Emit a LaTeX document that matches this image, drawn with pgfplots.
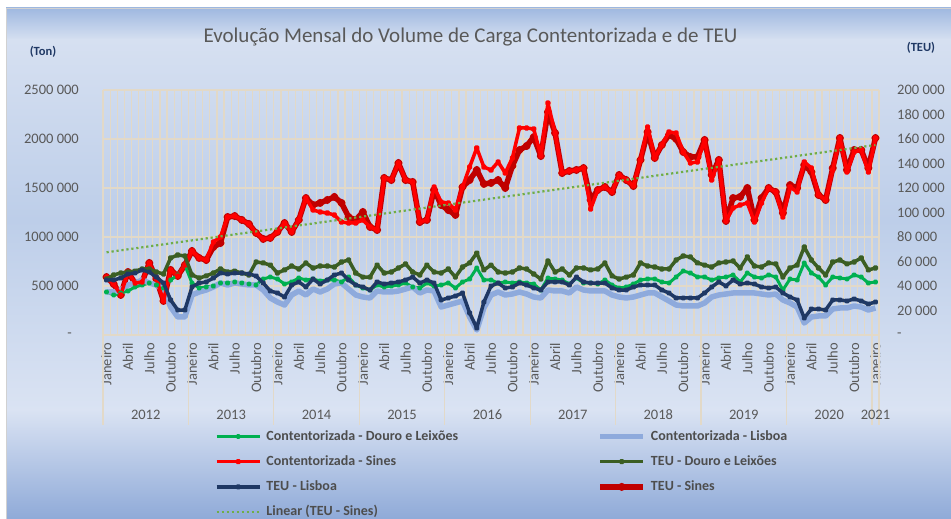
\documentclass[border=0pt]{standalone}
\usepackage{pgfplots}
\pgfplotsset{compat=1.18}
\usepackage{pgfplotstable}
\usepackage{fontspec}
\setmainfont{Carlito}

\definecolor{cA}{HTML}{00B050}
\definecolor{cAm}{HTML}{D2C6A8}
\definecolor{cB}{HTML}{8EAADC}
\definecolor{cC}{HTML}{FF0000}
\definecolor{cCm}{HTML}{F2D39A}
\definecolor{cD}{HTML}{3B5E23}
\definecolor{cDm}{HTML}{FFC000}
\definecolor{cE}{HTML}{1F3864}
\definecolor{cEm}{HTML}{8DB4E2}
\definecolor{cF}{HTML}{C00000}
\definecolor{cFm}{HTML}{70AD47}
\definecolor{cG}{HTML}{70AD47}
\definecolor{gridcol}{HTML}{E2D9C8}
\definecolor{lbl}{HTML}{595959}
\definecolor{legtext}{HTML}{4D4D4D}
\definecolor{unitcol}{HTML}{1F3864}
\definecolor{bgA}{HTML}{9FB8E0}
\definecolor{bgB}{HTML}{D6E0F1}
\definecolor{bgC}{HTML}{BDCEE9}
\definecolor{bgD}{HTML}{DAE3F3}
\definecolor{bgE}{HTML}{8FAAD8}

\newcommand\tickfont{\fontsize{14.5bp}{17bp}\selectfont}
\newcommand\legfont{\fontsize{14bp}{16bp}\selectfont\bfseries}

% i = month index (0 = Janeiro 2012, 108 = Janeiro 2021)
% A = Contentorizada Douro e Leixoes (ton), B = Contentorizada Lisboa (ton), C = Contentorizada Sines (ton)
% D = TEU Douro e Leixoes, E = TEU Lisboa, F = TEU Sines
\pgfplotstableread{
i A B C D E F
0 438800 438800 591800 45700 44900 47300
1 408200 438800 520400 49000 44900 41600
2 428600 459200 408200 50600 46500 32700
3 449000 510200 642900 51400 49800 51400
4 489800 530600 530600 52200 50600 42400
5 510200 561200 540800 53900 53100 43300
6 530600 530600 734700 53900 51400 58800
7 510200 510200 571400 51400 47300 45700
8 479600 459200 346900 49800 42400 27800
9 561200 285700 663300 62900 28600 53100
10 612200 183700 602000 65300 20400 48200
11 714300 183700 714300 64500 20400 57100
12 530600 408200 857100 49000 39200 68600
13 479600 438800 785700 46500 42400 62900
14 489800 459200 765300 48200 43300 61200
15 500000 489800 949000 50600 46500 71800
16 530600 530600 1000000 53900 50600 75100
17 530600 510200 1204100 51400 49800 96300
18 540800 530600 1214300 52200 50600 97100
19 530600 520400 1173500 50600 50600 93900
20 520400 510200 1132700 49000 49800 90600
21 510200 510200 1040800 59600 48200 83300
22 571400 459200 979600 58800 42400 78400
23 591800 377600 989800 57100 35900 79200
24 571400 336700 1051000 50600 34300 84100
25 520400 306100 1142900 53100 31000 91400
26 540800 408200 1051000 56300 40800 84100
27 581600 449000 1173500 53900 43300 93900
28 561200 408200 1398000 58800 39200 111800
29 571400 469400 1275500 54700 45700 106100
30 551000 438800 1255100 56300 41600 107800
31 561200 469400 1244900 56300 44900 110200
32 561200 520400 1224500 55500 49000 112700
33 540800 530600 1153100 59600 50600 107800
34 591800 469400 1142900 61200 44900 96300
35 510200 408200 1142900 50600 40800 93900
36 479600 387800 1173500 47300 39200 100400
37 459200 377600 1102000 47300 36700 88200
38 510200 449000 1071400 57100 43300 85700
39 489800 438800 1602000 50600 41600 128200
40 500000 438800 1581600 51400 42400 126500
41 510200 449000 1755100 54700 43300 140400
42 530600 469400 1581600 58000 44900 126500
43 489800 489800 1561200 51400 47300 124900
44 479600 428600 1153100 49000 42400 92200
45 530600 459200 1173500 57100 44900 93900
46 500000 449000 1510200 51400 42400 118400
47 510200 285700 1357100 50600 28600 106100
48 530600 306100 1346900 53900 30200 102000
49 479600 326500 1275500 47300 31800 98000
50 540800 346900 1510200 55500 34300 120800
51 571400 183700 1714300 58800 18000 126500
52 683700 51000 1908200 66900 5700 134700
53 561200 275500 1714300 53100 26900 123300
54 561200 408200 1683700 57100 40000 124100
55 530600 438800 1765300 51400 42400 126500
56 540800 408200 1653100 50600 38400 120000
57 530600 418400 1806100 51400 39200 138000
58 540800 438800 2112200 54700 42400 151000
59 530600 418400 2112200 53900 40800 154300
60 520400 387800 2102000 49800 38400 161600
61 459200 377600 1826500 45700 36700 146100
62 581600 459200 2367300 60400 43300 182000
63 571400 449000 2061200 51400 43300 164900
64 561200 449000 1653100 53900 43300 132200
65 520400 428600 1673500 49000 40800 133900
66 581600 489800 1683700 54700 47300 134700
67 530600 459200 1704100 54700 43300 136300
68 530600 449000 1285700 53100 42400 110200
69 520400 449000 1479600 53900 42400 118400
70 561200 449000 1510200 58800 42400 120800
71 510200 408200 1459200 48200 38400 116700
72 479600 387800 1632700 45700 36700 130600
73 489800 377600 1581600 47300 36700 126500
74 520400 387800 1520400 49000 39200 121600
75 561200 408200 1785700 58800 40800 142900
76 571400 428600 2122400 56300 40800 165700
77 571400 428600 1806100 55500 40800 144500
78 540800 387800 1938800 53900 36700 155100
79 530600 346900 2071400 53900 34300 163300
80 591800 306100 2061200 61200 30200 160000
81 653100 295900 1867300 64500 30200 149400
82 632700 295900 1755100 63700 30200 145300
83 591800 295900 1765300 58800 30200 145300
84 591800 326500 1989800 57100 34300 159200
85 561200 387800 1581600 55500 39200 130600
86 581600 408200 1785700 58800 43300 142900
87 591800 418400 1163300 59600 40000 93100
88 612200 428600 1295900 60400 44900 111800
89 540800 428600 1326500 54700 41600 112700
90 632700 428600 1346900 63700 42400 120000
91 591800 428600 1153100 56300 41600 93900
92 581600 418400 1346900 55500 39200 111800
93 612200 408200 1500000 58800 38400 120000
94 591800 418400 1459200 58000 39200 116700
95 459200 357100 1204100 47300 34300 99600
96 571400 326500 1510200 54700 31000 122400
97 561200 285700 1459200 57100 28600 120000
98 734700 122400 1765300 71800 13900 138800
99 632700 183700 1704100 61200 21200 133100
100 591800 193900 1428600 54700 21200 114300
101 510200 193900 1377600 49000 20400 110200
102 591800 265300 1683700 59600 28600 136300
103 581600 275500 2010200 61200 28600 160800
104 571400 275500 1663300 58000 27800 134700
105 612200 295900 1867300 59600 29400 151000
106 591800 285700 1887800 62900 27800 151000
107 530600 255100 1663300 53100 25300 136300
108 540800 275500 2010200 54700 26900 160800
}\data

\pgfplotsset{
  base/.style={scale only axis, width=776bp, height=245bp,
    at={(103bp,184bp)}, anchor=south west,
    xmin=-0.5, xmax=108.5,
    axis line style={draw=none},
    major tick length=0pt, minor tick length=0pt,
    scaled ticks=false,
    tick label style={font=\tickfont, text=lbl}},
  sA/.style={color=cA, line width=3bp, line join=round, mark=*, mark size=1.3bp, mark options={draw=none, fill=cAm}},
  sB/.style={color=cB, line width=5.5bp, line join=round, no markers},
  sC/.style={color=cC, line width=3.5bp, line join=round, mark=*, mark size=1.3bp, mark options={draw=none, fill=cCm}},
  sD/.style={color=cD, line width=3.5bp, line join=round, mark=*, mark size=1.3bp, mark options={draw=none, fill=cDm}},
  sE/.style={color=cE, line width=3.5bp, line join=round, mark=*, mark size=1.2bp, mark options={draw=none, fill=cEm}},
  sF/.style={color=cF, line width=5.5bp, line join=round, mark=*, mark size=1.3bp, mark options={draw=none, fill=cFm}},
  sG/.style={color=cG, line width=2.2bp, dash pattern=on 2.2bp off 2.8bp, no markers},
}

\begin{document}
\begin{tikzpicture}[x=1bp,y=1bp]
\fill[white] (0,0) rectangle (951,519);
\shade[top color=bgA, bottom color=bgB] (6,479) rectangle (951,511);
\shade[top color=bgB, bottom color=bgC] (6,299) rectangle (951,479.2);
\shade[top color=bgC, bottom color=bgD] (6,109) rectangle (951,299.2);
\shade[top color=bgD, bottom color=bgE] (6,0) rectangle (951,109.2);
\draw[black!18, line width=0.8bp] (6,0) -- (6,511) -- (951,511);

% grid (labels suppressed) + TEU Sines (right scale)
\begin{axis}[base, ymin=0, ymax=200000,
  ytick={0,40000,80000,120000,160000,200000},
  xtick={-0.5,0.5,...,108.5},
  xticklabel={\relax}, yticklabel={\relax},
  xmajorgrids, ymajorgrids,
  major grid style={gridcol, line width=1.2bp}]
\addplot[sF] table[x=i,y=F]{\data};
\end{axis}

% left axis (ton)
\begin{axis}[base, clip=false, ymin=0, ymax=2500000,
  ytick={0,500000,1000000,1500000,2000000,2500000},
  yticklabels={-\hspace*{7bp},500 000,1000 000,1500 000,2000 000,2500 000},
  yticklabel style={anchor=east, inner sep=0pt, xshift=-24bp},
  xtick={0,3,...,108},
  xticklabels={Janeiro,Abril,Julho,Outubro,Janeiro,Abril,Julho,Outubro,Janeiro,Abril,Julho,Outubro,Janeiro,Abril,Julho,Outubro,Janeiro,Abril,Julho,Outubro,Janeiro,Abril,Julho,Outubro,Janeiro,Abril,Julho,Outubro,Janeiro,Abril,Julho,Outubro,Janeiro,Abril,Julho,Outubro,Janeiro},
  xticklabel style={rotate=90, anchor=east, inner sep=0pt},
  xticklabel shift=8bp]
\addplot[sA] table[x=i,y=A]{\data};
\addplot[sB] table[x=i,y=B]{\data};
\addplot[sC] table[x=i,y=C]{\data};
\draw[gridcol, line width=1.2bp] (axis cs:-0.5,0) -- ++(0pt,-90bp);
\draw[gridcol, line width=1.2bp] (axis cs:11.5,0) -- ++(0pt,-90bp);
\draw[gridcol, line width=1.2bp] (axis cs:23.5,0) -- ++(0pt,-90bp);
\draw[gridcol, line width=1.2bp] (axis cs:35.5,0) -- ++(0pt,-90bp);
\draw[gridcol, line width=1.2bp] (axis cs:47.5,0) -- ++(0pt,-90bp);
\draw[gridcol, line width=1.2bp] (axis cs:59.5,0) -- ++(0pt,-90bp);
\draw[gridcol, line width=1.2bp] (axis cs:71.5,0) -- ++(0pt,-90bp);
\draw[gridcol, line width=1.2bp] (axis cs:83.5,0) -- ++(0pt,-90bp);
\draw[gridcol, line width=1.2bp] (axis cs:95.5,0) -- ++(0pt,-90bp);
\draw[gridcol, line width=1.2bp] (axis cs:107.5,0) -- ++(0pt,-90bp);
\draw[gridcol, line width=1.2bp] (axis cs:108.5,0) -- ++(0pt,-90bp);
\node[font=\tickfont, text=lbl] at (axis cs:5.5,0) [yshift=-80bp] {2012};
\node[font=\tickfont, text=lbl] at (axis cs:17.5,0) [yshift=-80bp] {2013};
\node[font=\tickfont, text=lbl] at (axis cs:29.5,0) [yshift=-80bp] {2014};
\node[font=\tickfont, text=lbl] at (axis cs:41.5,0) [yshift=-80bp] {2015};
\node[font=\tickfont, text=lbl] at (axis cs:53.5,0) [yshift=-80bp] {2016};
\node[font=\tickfont, text=lbl] at (axis cs:65.5,0) [yshift=-80bp] {2017};
\node[font=\tickfont, text=lbl] at (axis cs:77.5,0) [yshift=-80bp] {2018};
\node[font=\tickfont, text=lbl] at (axis cs:89.5,0) [yshift=-80bp] {2019};
\node[font=\tickfont, text=lbl] at (axis cs:101.5,0) [yshift=-80bp] {2020};
\node[font=\tickfont, text=lbl] at (axis cs:108,0) [yshift=-80bp] {2021};
\end{axis}

% right axis (TEU) + legend
\begin{axis}[base, ymin=0, ymax=200000,
  ytick={0,20000,40000,60000,80000,100000,120000,140000,160000,180000,200000},
  yticklabels={-,20 000,40 000,60 000,80 000,100 000,120 000,140 000,160 000,180 000,200 000},
  yticklabel pos=right,
  yticklabel style={anchor=west, inner sep=0pt, xshift=18bp},
  xtick=\empty,
  legend columns=2,
  legend cell align=left,
  legend image code/.code={\draw[mark repeat=2, mark phase=2, #1] plot coordinates {(0bp,0bp) (21.5bp,0bp) (43bp,0bp)};},
  legend style={at={(0.1443,-0.3878)}, anchor=north west, draw=none, fill=none,
    inner sep=0pt, outer sep=0pt, row sep=12.2bp, column sep=0pt,
    font=\legfont, text=legtext,
    nodes={inner sep=0pt, text height=10bp, text depth=3bp},
    /tikz/every odd column/.style={column sep=5bp},
    /tikz/every even column/.style={column sep=0pt}}]
\addlegendimage{sA}
\addlegendentry{\makebox[331bp][l]{Contentorizada - Douro e Leixões}}
\addlegendimage{sB}
\addlegendentry{Contentorizada - Lisboa}
\addlegendimage{sC}
\addlegendentry{\makebox[331bp][l]{Contentorizada - Sines}}
\addlegendimage{sD}
\addlegendentry{TEU - Douro e Leixões}
\addlegendimage{sE}
\addlegendentry{\makebox[331bp][l]{TEU - Lisboa}}
\addlegendimage{sF}
\addlegendentry{TEU - Sines}
\addlegendimage{sG}
\addlegendentry{\makebox[331bp][l]{Linear (TEU - Sines)}}
\addplot[sD, forget plot] table[x=i,y=D]{\data};
\addplot[sE, forget plot] table[x=i,y=E]{\data};
\addplot[sG, forget plot] coordinates {(0,67500) (108,155100)};
\end{axis}

\node[font=\fontsize{21bp}{25bp}\selectfont, text=lbl] at (470.5,482) {Evolução Mensal do Volume de Carga Contentorizada e de TEU};
\node[font=\fontsize{12.5bp}{15bp}\selectfont\bfseries, text=unitcol] at (43,467) {(Ton)};
\node[font=\fontsize{12.5bp}{15bp}\selectfont\bfseries, text=unitcol] at (921,471) {(TEU)};

\pgfresetboundingbox
\useasboundingbox (0,0) rectangle (951,519);
\end{tikzpicture}
\end{document}
